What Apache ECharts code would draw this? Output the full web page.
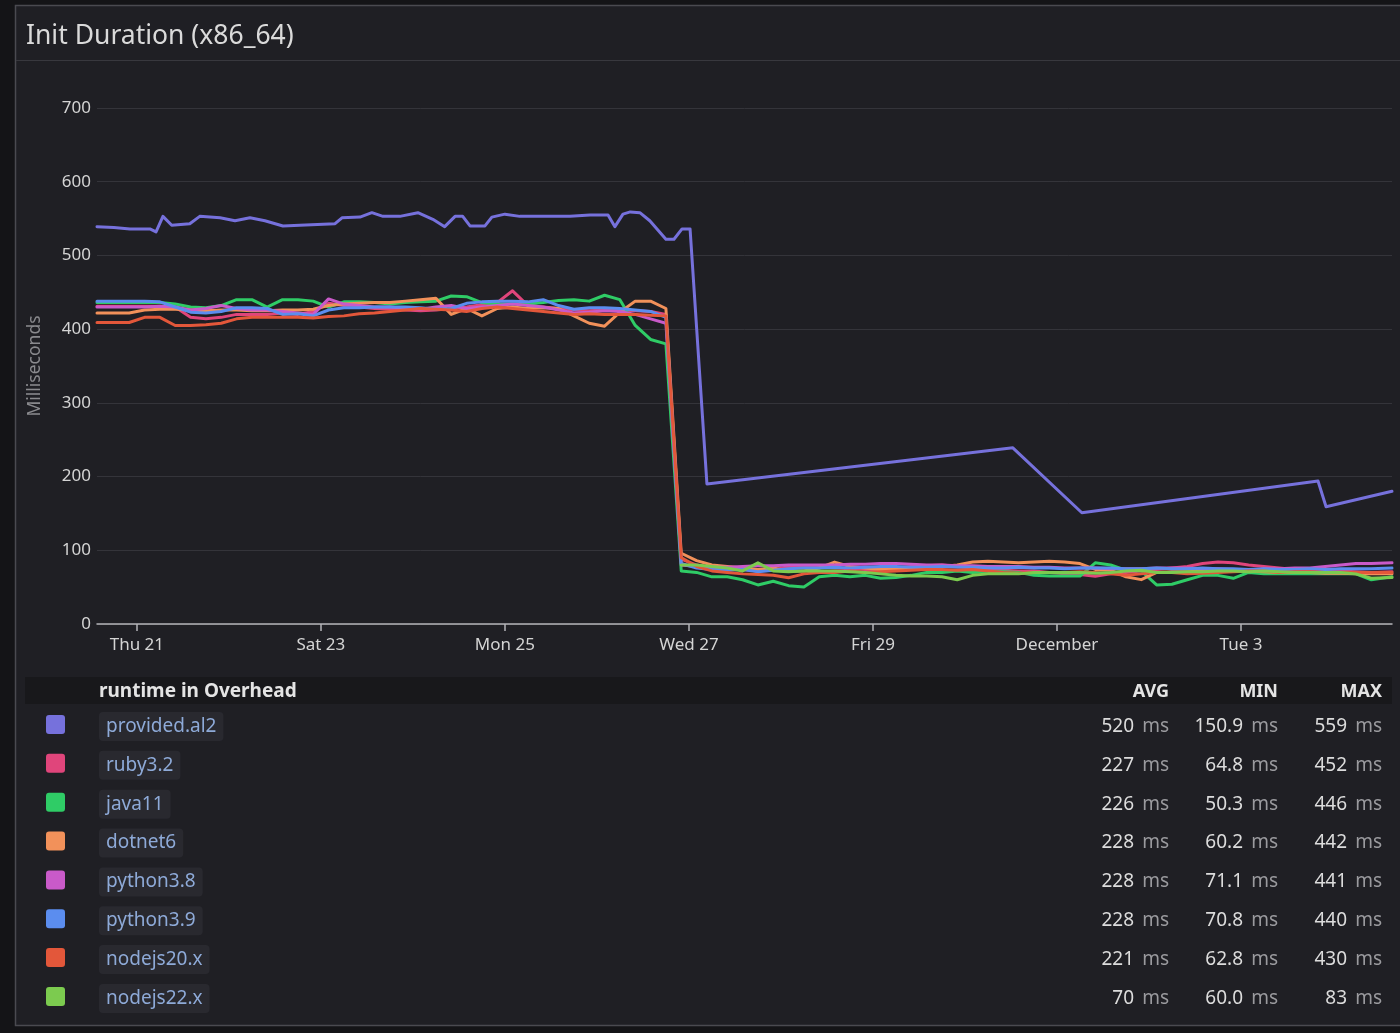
<!DOCTYPE html>
<html>
<head>
<meta charset="utf-8">
<script src="https://cdn.jsdelivr.net/npm/echarts@6/dist/echarts.min.js"></script>
<style>
html,body{margin:0;padding:0;background:#141417;}
#c{width:1400px;height:1033px;}
</style>
</head>
<body>
<div id="c"></div>
<script>
// ---------- data ----------
const seriesNames = ['provided.al2','ruby3.2','java11','dotnet6','python3.8','python3.9','nodejs20.x','nodejs22.x'];
const seriesColors = ['#7671dc','#e0457b','#2fcc66','#f2915a','#c95ac9','#5b8def','#e3573a','#7ccb4f'];

// hours since Thu 21 Nov 00:00
const times = [-10.4,-6,-2,2,6,10,14,18,22,26,30,34,38,42,46,50,54,58,62,66,70,74,78,82,86,90,94,98,102,106,110,114,118,122,126,130,134,138,142,146,150,154,158,162,166,170,174,178,182,186,190,194,198,202,206,210,214,218,222,226,230,234,238,242,246,250,254,258,262,266,270,274,278,282,286,290,294,298,302,306,310,314,318,322,327.4];

const providedAl2Times = [-10.4,-6,-1.8,3.4,5.0,6.8,9.1,13.8,16.4,21.7,25.6,29.5,33.4,38.1,42.5,51.7,53.5,58.2,61.3,64.2,68.6,73.3,77.2,80.3,83.0,85.0,86.9,90.8,92.6,96.0,99.9,113.0,118.2,122.9,124.7,126.8,128.7,131.2,133.8,138.0,140.1,142.2,144.3,148.7,228.5,246.5,308.1,310.2,327.4];
const providedAl2 = [539,538,536,536,532,553,541,543,553,551,547,551,547,540,541,543,551,552,558,553,553,558,549,539,553,553,540,540,552,556,553,553,555,555,539,556,559,558,547,522,522,536,536,190,239,150.9,194,159,180];

const ruby32 = [431,431,431,431,431,430,416,414,416,420,
  420,420,422,420,424,435,432,430,428,427,
  426,425,426,428,430,433,436,452,432,430,
  428,426,425,426,426,425,424,420,88,80,
  76,74,74,72,73,78,78,77,76,75,
  74,74,76,78,79,80,78,76,74,73,
  72,72,70,68,67,64.8,68,70,72,74,
  76,78,82,84,83,80,78,76,74,73,
  72,72,71,70,71];

const java11 = [436,436,436,436,436,434,430,429,432,440,
  440,430,440,440,438,430,437,437,436,434,
  436,437,438,445,444,436,434,434,434,436,
  439,440,438,446,440,405,386,380,72,70,
  64,64,60,53,58,52,50.3,64,66,64,
  66,62,63,66,70,70,72,70,71,71,
  70,66,65,65,65,83,80,73,72,53,
  54,60,66,66,62,70,68,68,68,68,
  68,68,68,60,64];

const dotnet6 = [422,422,422,426,427,427,426,425,426,426,
  425,425,426,426,427,432,434,435,436,436,
  438,440,442,420,428,418,428,430,428,429,
  428,418,408,404,423,438,438,428,96,86,
  80,78,76,74,76,72,72,76,84,78,
  76,74,74,75,76,78,80,84,85,84,
  83,84,85,84,82,74,73,64,60.2,70,
  71,71,72,72,73,72,71,70,70,70,
  69,69,68,68,68];

const python38 = [430,430,430,430,431,430,426,428,432,428,
  426,426,424,422,420,441,434,432,430,430,
  428,427,430,432,428,430,432,434,432,430,
  426,422,423,425,424,420,414,408,80,78,
  77,77,78,79,79,80,80,80,80,81,
  81,82,82,81,80,80,79,79,78,78,
  78,77,77,76,76,76,75,75,75,76,
  76,76,75,75,74,71.1,75,75,76,76,
  78,80,82,82,83];

const python39 = [438,438,438,438,437,430,423,422,424,429,
  429,428,420,421,418,426,429,429,430,430,
  430,429,427,428,435,437,438,438,437,440,
  432,427,429,429,428,426,424,416,82,76,
  74,73,74,70.8,73,75,76,76,77,76,
  77,78,78,77,77,78,77,77,76,76,
  77,76,76,75,76,76,76,75,75,76,
  75,75,76,75,75,74,75,74,74,75,
  74,75,75,75,76];

const nodejs20 = [409,409,409,416,416,405,405,406,408,414,
  416,416,416,416,415,417,418,421,422,424,
  426,428,427,426,424,428,430,428,426,424,
  422,420,421,420,420,420,419,418,90,78,
  72,70,68,67,66,62.8,68,70,70,72,
  70,71,72,73,74,74,73,74,72,70,
  69,70,70,70,71,70,68,66,68,70,
  70,68,69,70,71,72,72,70,71,71,
  70,70,70,70,70];

const nodejs22 = [null,null,null,null,null,null,null,null,null,null,
  null,null,null,null,null,null,null,null,null,null,
  null,null,null,null,null,null,null,null,null,null,
  null,null,null,null,null,null,null,null,80,80,
  78,76,72,83,72,71,72,72,72,71,
  70,68,66,65,65,64,60,66,68,68,
  68,70,70,70,70,69,70,72,73,70,
  70,71,71,72,72,71,72,71,70,70,
  70,70,68,62,63];

const xTickValues = [0,48,96,144,192,240,288];
const xTickLabels = ['Thu 21','Sat 23','Mon 25','Wed 27','Fri 29','December','Tue 3'];

const statAvg = ['520','227','226','228','228','228','221','70'];
const statMin = ['150.9','64.8','50.3','60.2','71.1','70.8','62.8','60.0'];
const statMax = ['559','452','446','442','441','440','430','83'];

// ---------- build ----------
const FONT = '"Noto Sans", "Open Sans", sans-serif';
const dense = [null, ruby32, java11, dotnet6, python38, python39, nodejs20, nodejs22];
function zip(t, v) { return t.map(function (h, i) { return [h, v[i]]; }); }

const series = seriesNames.map(function (name, i) {
  return {
    name: name,
    type: 'line',
    symbol: 'none',
    showSymbol: false,
    data: i === 0 ? zip(providedAl2Times, providedAl2) : zip(times, dense[i]),
    lineStyle: { width: 3, color: seriesColors[i], join: 'round', cap: 'round' },
    itemStyle: { color: seriesColors[i] },
    emphasis: { disabled: true },
    animation: false
  };
});

const graphics = [];
// outer page strips & panel border
graphics.push({ type: 'rect', shape: { x: 0, y: 0, width: 15, height: 1033 }, style: { fill: '#141417' }, silent: true });
graphics.push({ type: 'rect', shape: { x: 0, y: 0, width: 1400, height: 5 }, style: { fill: '#141417' }, silent: true });
graphics.push({ type: 'rect', shape: { x: 0, y: 1026, width: 1400, height: 7 }, style: { fill: '#141417' }, silent: true });
graphics.push({ type: 'rect', shape: { x: 15.5, y: 5.5, width: 1400, height: 1020 }, style: { fill: 'none', stroke: '#4a4a50', lineWidth: 1.5 }, silent: true });
graphics.push({ type: 'line', shape: { x1: 16, y1: 60.5, x2: 1400, y2: 60.5 }, style: { stroke: '#38383e', lineWidth: 1 }, silent: true });
// title
graphics.push({ type: 'text', x: 26, y: 36, silent: true,
  style: { text: 'Init Duration (x86_64)', fill: '#dadada', fontSize: 26.5, fontFamily: FONT,
    verticalAlign: 'middle', textVerticalAlign: 'middle', align: 'left', textAlign: 'left' } });
// table header
graphics.push({ type: 'rect', shape: { x: 25, y: 677, width: 1367, height: 27 }, style: { fill: '#18181b' }, silent: true });
graphics.push({ type: 'text', x: 99, y: 692, silent: true,
  style: { text: 'runtime in Overhead', fill: '#e4e4e4', fontSize: 19, fontWeight: 'bold', fontFamily: FONT,
    verticalAlign: 'middle', textVerticalAlign: 'middle' } });
const colRight = [1169, 1278, 1382];
const colHead = ['AVG', 'MIN', 'MAX'];
colHead.forEach(function (h, k) {
  graphics.push({ type: 'text', x: colRight[k], y: 692, silent: true,
    style: { text: h, fill: '#e4e4e4', fontSize: 18, fontWeight: 'bold', fontFamily: FONT,
      align: 'right', textAlign: 'right', verticalAlign: 'middle', textVerticalAlign: 'middle' } });
});
// rows
const stats = [statAvg, statMin, statMax];
seriesNames.forEach(function (name, i) {
  const cy = 724.5 + i * 38.85;
  graphics.push({ type: 'rect', shape: { x: 46, y: cy - 9.5, width: 19, height: 19, r: 3 },
    style: { fill: seriesColors[i] }, silent: true });
  graphics.push({ type: 'text', x: 99, y: cy + 2, silent: true,
    style: { text: name, fill: '#8eaad8', fontSize: 19, fontFamily: FONT,
      backgroundColor: '#29292f', padding: [5, 7, 5, 7], borderRadius: 4,
      verticalAlign: 'middle', textVerticalAlign: 'middle' } });
  stats.forEach(function (arr, k) {
    graphics.push({ type: 'text', x: colRight[k] - 35, y: cy + 2, silent: true,
      style: { text: arr[i], fill: '#dcdcdc', fontSize: 19, fontFamily: FONT,
        align: 'right', textAlign: 'right', verticalAlign: 'middle', textVerticalAlign: 'middle' } });
    graphics.push({ type: 'text', x: colRight[k], y: cy + 2, silent: true,
      style: { text: 'ms', fill: '#9a9a9e', fontSize: 19, fontFamily: FONT,
        align: 'right', textAlign: 'right', verticalAlign: 'middle', textVerticalAlign: 'middle' } });
  });
});

const chart = echarts.init(document.getElementById('c'), null, { renderer: 'canvas' });
chart.setOption({
  backgroundColor: '#1f1f24',
  animation: false,
  textStyle: { fontFamily: FONT },
  grid: { left: 97, right: 8, top: 108, bottom: 409, containLabel: false },
  xAxis: {
    type: 'value',
    min: -10.4,
    max: 327.4,
    axisLine: { show: true, lineStyle: { color: '#b4b4b8', width: 1.5 } },
    axisTick: { show: true, customValues: xTickValues, length: 7, lineStyle: { color: '#b4b4b8', width: 1.5 } },
    axisLabel: {
      customValues: xTickValues,
      color: '#d4d4d4', fontSize: 17, fontFamily: FONT, margin: 13,
      formatter: function (v) { const k = xTickValues.indexOf(v); return k >= 0 ? xTickLabels[k] : ''; }
    },
    splitLine: { show: false }
  },
  yAxis: {
    type: 'value',
    min: 0, max: 700, interval: 100,
    name: 'Milliseconds',
    nameLocation: 'middle',
    nameRotate: 90,
    nameGap: 53,
    nameTextStyle: { color: '#8a8a8e', fontSize: 17.5, fontFamily: FONT },
    axisLine: { show: false },
    axisTick: { show: false },
    axisLabel: { color: '#d4d4d4', fontSize: 17, fontFamily: FONT, margin: 6 },
    splitLine: { lineStyle: { color: '#34343a', width: 1 } }
  },
  series: series,
  graphic: { elements: graphics }
});
</script>
</body>
</html>
